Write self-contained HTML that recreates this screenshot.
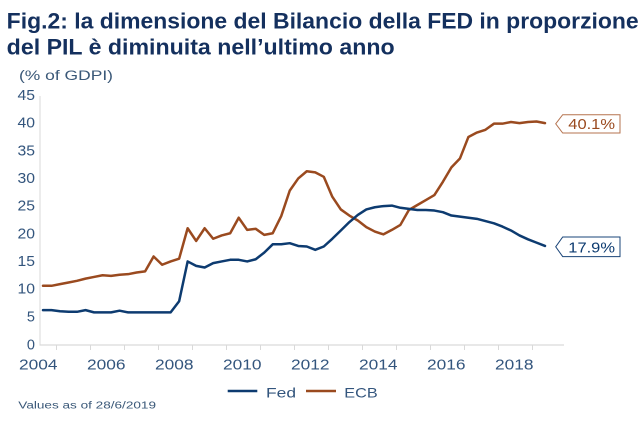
<!DOCTYPE html>
<html>
<head>
<meta charset="utf-8">
<style>
html,body{margin:0;padding:0;background:#fff;}
svg{display:block;}
text{font-family:"Liberation Sans",sans-serif;}
</style>
</head>
<body>
<svg width="644" height="421" viewBox="0 0 644 421" xmlns="http://www.w3.org/2000/svg">
<rect width="644" height="421" fill="#fff"/>
<!-- Title -->
<text x="6.7" y="28.3" font-size="22" font-weight="bold" fill="#14305e" textLength="632" lengthAdjust="spacingAndGlyphs">Fig.2: la dimensione del Bilancio della FED in proporzione</text>
<text x="6.7" y="54.3" font-size="22" font-weight="bold" fill="#14305e" textLength="388" lengthAdjust="spacingAndGlyphs">del PIL è diminuita nell’ultimo anno</text>
<text x="19" y="80" font-size="13.5" fill="#3a5878" textLength="94" lengthAdjust="spacingAndGlyphs">(% of GDPI)</text>

<!-- Axes -->
<line x1="40" y1="96" x2="40" y2="345" stroke="#d9d9d9" stroke-width="1"/>
<line x1="39.5" y1="345" x2="564" y2="345" stroke="#d9d9d9" stroke-width="1.2"/>
<g stroke="#d9d9d9" stroke-width="1">
<line x1="56.5" y1="345" x2="56.5" y2="350"/>
<line x1="90.5" y1="345" x2="90.5" y2="350"/>
<line x1="124.5" y1="345" x2="124.5" y2="350"/>
<line x1="158.5" y1="345" x2="158.5" y2="350"/>
<line x1="192.5" y1="345" x2="192.5" y2="350"/>
<line x1="226.5" y1="345" x2="226.5" y2="350"/>
<line x1="260.5" y1="345" x2="260.5" y2="350"/>
<line x1="294.5" y1="345" x2="294.5" y2="350"/>
<line x1="328.5" y1="345" x2="328.5" y2="350"/>
<line x1="362.5" y1="345" x2="362.5" y2="350"/>
<line x1="396.5" y1="345" x2="396.5" y2="350"/>
<line x1="430.5" y1="345" x2="430.5" y2="350"/>
<line x1="464.5" y1="345" x2="464.5" y2="350"/>
<line x1="498.5" y1="345" x2="498.5" y2="350"/>
<line x1="532.5" y1="345" x2="532.5" y2="350"/>
</g>

<!-- Y labels -->
<g font-size="14.5" fill="#33557d" text-anchor="end">
<text x="35" y="100" textLength="17.5" lengthAdjust="spacingAndGlyphs">45</text>
<text x="35" y="127.7" textLength="17.5" lengthAdjust="spacingAndGlyphs">40</text>
<text x="35" y="155.3" textLength="17.5" lengthAdjust="spacingAndGlyphs">35</text>
<text x="35" y="183" textLength="17.5" lengthAdjust="spacingAndGlyphs">30</text>
<text x="35" y="210.7" textLength="17.5" lengthAdjust="spacingAndGlyphs">25</text>
<text x="35" y="238.3" textLength="17.5" lengthAdjust="spacingAndGlyphs">20</text>
<text x="35" y="266" textLength="17.5" lengthAdjust="spacingAndGlyphs">15</text>
<text x="35" y="293.7" textLength="17.5" lengthAdjust="spacingAndGlyphs">10</text>
<text x="35" y="321.3">5</text>
<text x="35" y="349.3">0</text>
</g>

<!-- X labels -->
<g font-size="14.5" fill="#33557d" text-anchor="middle">
<text x="38.3" y="369.3" textLength="38.5" lengthAdjust="spacingAndGlyphs">2004</text>
<text x="106.3" y="369.3" textLength="38.5" lengthAdjust="spacingAndGlyphs">2006</text>
<text x="174.3" y="369.3" textLength="38.5" lengthAdjust="spacingAndGlyphs">2008</text>
<text x="242.3" y="369.3" textLength="38.5" lengthAdjust="spacingAndGlyphs">2010</text>
<text x="310.3" y="369.3" textLength="38.5" lengthAdjust="spacingAndGlyphs">2012</text>
<text x="378.3" y="369.3" textLength="38.5" lengthAdjust="spacingAndGlyphs">2014</text>
<text x="446.3" y="369.3" textLength="38.5" lengthAdjust="spacingAndGlyphs">2016</text>
<text x="514.3" y="369.3" textLength="38.5" lengthAdjust="spacingAndGlyphs">2018</text>
</g>

<!-- Series -->
<g transform="translate(43,345) scale(8.5085,-5.533)">
<polyline fill="none" stroke="#9a4a1f" stroke-width="2.5" stroke-linejoin="round" stroke-linecap="round" vector-effect="non-scaling-stroke"
points="0,10.7 1,10.7 2,11.0 3,11.3 4,11.6 5,12.0 6,12.3 7,12.6 8,12.5 9,12.7 10,12.8 11,13.1 12,13.3 13,16.0 14,14.5 15,15.1 16,15.6 17,21.1 18,18.8 19,21.1 20,19.2 21,19.8 22,20.2 23,23.0 24,20.8 25,21.0 26,19.9 27,20.2 28,23.3 29,27.9 30,30.1 31,31.4 32,31.2 33,30.4 34,26.8 35,24.5 36,23.4 37,22.5 38,21.3 39,20.5 40,20.0 41,20.8 42,21.7 43,24.4 44,25.3 45,26.2 46,27.1 47,29.5 48,32.1 49,33.7 50,37.6 51,38.4 52,38.9 53,40.0 54,40.0 55,40.3 56,40.1 57,40.3 58,40.4 59,40.1"/>
<polyline fill="none" stroke="#0d3b70" stroke-width="2.5" stroke-linejoin="round" stroke-linecap="round" vector-effect="non-scaling-stroke"
points="0,6.3 1,6.3 2,6.1 3,6.0 4,6.0 5,6.3 6,5.9 7,5.9 8,5.9 9,6.2 10,5.9 11,5.9 12,5.9 13,5.9 14,5.9 15,5.9 16,7.9 17,15.1 18,14.3 19,14.0 20,14.8 21,15.1 22,15.4 23,15.4 24,15.1 25,15.5 26,16.7 27,18.2 28,18.2 29,18.4 30,17.9 31,17.8 32,17.2 33,17.8 34,19.2 35,20.7 36,22.2 37,23.5 38,24.5 39,24.9 40,25.1 41,25.2 42,24.8 43,24.6 44,24.4 45,24.4 46,24.3 47,24.0 48,23.4 49,23.2 50,23.0 51,22.8 52,22.4 53,22.0 54,21.4 55,20.7 56,19.8 57,19.1 58,18.5 59,17.9"/>
</g>

<!-- End labels -->
<polygon points="555.7,123.8 562.7,114.7 620,114.7 620,133 562.7,133" fill="#fff" stroke="#b5734f" stroke-width="1"/>
<text x="568.3" y="129" font-size="15" fill="#9a4a1f" textLength="46.7" lengthAdjust="spacingAndGlyphs">40.1%</text>
<polygon points="555.7,246.8 562.7,237 620,237 620,256.6 562.7,256.6" fill="#fff" stroke="#1a4478" stroke-width="1"/>
<text x="568.3" y="252.5" font-size="15" fill="#0d3b70" textLength="46.7" lengthAdjust="spacingAndGlyphs">17.9%</text>

<!-- Legend -->
<line x1="227.7" y1="391" x2="257.3" y2="391" stroke="#0d3b70" stroke-width="2.5"/>
<text x="266" y="397.3" font-size="14" fill="#33557d" textLength="30" lengthAdjust="spacingAndGlyphs">Fed</text>
<line x1="306" y1="391" x2="336" y2="391" stroke="#9a4a1f" stroke-width="2.5"/>
<text x="344.3" y="397.3" font-size="14" fill="#33557d" textLength="33.4" lengthAdjust="spacingAndGlyphs">ECB</text>

<!-- Footnote -->
<text x="18.3" y="408.3" font-size="10" fill="#3a5878" textLength="137.7" lengthAdjust="spacingAndGlyphs">Values as of 28/6/2019</text>
</svg>
</body>
</html>
